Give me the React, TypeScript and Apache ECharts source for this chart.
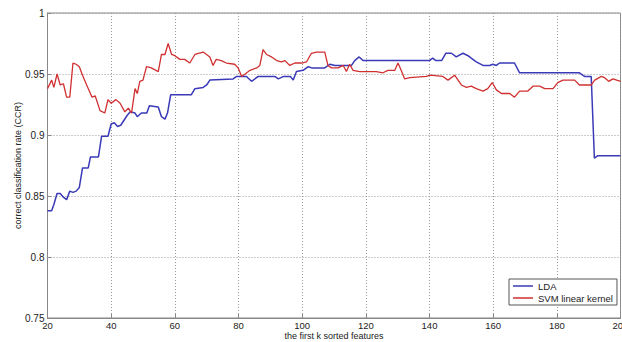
import React, { useEffect, useRef } from "react";
import * as echarts from "echarts";

const xTicks = [20, 40, 60, 80, 100, 120, 140, 160, 180, 200];
const yTicks = [0.75, 0.8, 0.85, 0.9, 0.95, 1];

const ldaX = [20, 21.3, 22, 23, 24, 25, 26, 27, 28, 29, 30, 31, 32.8, 33.5, 36, 37, 39, 40, 41, 42, 43, 45, 46, 47.5, 48.2, 49.5, 51.2, 52, 54.8, 55.8, 56.9, 57.7, 58.7, 65.2, 66.3, 68.9, 70, 71, 78.3, 79.4, 82.5, 84.1, 86.2, 91.4, 92.5, 94.2, 96.3, 97.2, 98.2, 100.3, 101.9, 103, 107.1, 108.7, 110.3, 115.5, 116.5, 117.9, 119.1, 140, 141, 142, 143.8, 145.1, 146.9, 148.4, 150.5, 152.1, 153.1, 154.7, 156.8, 158.9, 159.9, 161, 162, 166.7, 168.3, 187.1, 188.7, 190.8, 191.8, 192.9, 200];
const ldaY = [0.838, 0.838, 0.843, 0.852, 0.852, 0.849, 0.847, 0.854, 0.853, 0.854, 0.857, 0.873, 0.873, 0.882, 0.882, 0.899, 0.899, 0.909, 0.910, 0.907, 0.908, 0.916, 0.919, 0.918, 0.915, 0.918, 0.918, 0.924, 0.923, 0.915, 0.913, 0.918, 0.933, 0.933, 0.938, 0.939, 0.941, 0.945, 0.946, 0.948, 0.948, 0.944, 0.948, 0.948, 0.946, 0.948, 0.948, 0.945, 0.952, 0.953, 0.956, 0.955, 0.955, 0.958, 0.957, 0.957, 0.961, 0.964, 0.961, 0.961, 0.963, 0.961, 0.961, 0.967, 0.967, 0.964, 0.967, 0.965, 0.963, 0.960, 0.957, 0.957, 0.958, 0.957, 0.959, 0.959, 0.951, 0.951, 0.948, 0.948, 0.881, 0.883, 0.883];

const svmX = [20, 21.3, 22, 23, 24, 25, 26, 27, 28, 29, 30, 31, 32.3, 34, 35, 36.5, 38, 39, 40, 41.5, 42.8, 44.3, 45.4, 46.4, 47.5, 48.2, 49, 50, 51.1, 52.6, 54.8, 55.8, 56.9, 57.9, 59, 60, 61.6, 63.1, 64.7, 66.3, 68.9, 71, 72, 73, 74.6, 76.2, 78.8, 79.9, 81, 82.1, 83.6, 85.7, 86.7, 87.7, 88.8, 90.4, 92, 93.5, 94.6, 96.1, 97.7, 99.8, 101.4, 102.9, 104.5, 107.1, 108.1, 109.2, 111.3, 112.9, 113.9, 114.9, 116, 118.1, 123.3, 125.4, 126.9, 129.1, 130.1, 131.1, 132.2, 133.8, 139, 140.3, 144.2, 145.8, 147.9, 150, 151.6, 153.1, 154.7, 156.8, 158.3, 159.7, 161, 162.6, 165.2, 166.7, 168.3, 170.9, 172.5, 174.6, 176.2, 178.8, 180.3, 181.9, 185.6, 187.1, 190.8, 191.9, 194, 195, 196.3, 197.6, 200];
const svmY = [0.938, 0.945, 0.939, 0.950, 0.941, 0.942, 0.931, 0.931, 0.959, 0.958, 0.956, 0.949, 0.941, 0.931, 0.932, 0.920, 0.918, 0.929, 0.926, 0.929, 0.926, 0.919, 0.922, 0.918, 0.938, 0.934, 0.944, 0.945, 0.956, 0.955, 0.952, 0.966, 0.966, 0.975, 0.966, 0.965, 0.962, 0.962, 0.959, 0.966, 0.968, 0.964, 0.957, 0.962, 0.961, 0.959, 0.958, 0.955, 0.948, 0.950, 0.953, 0.955, 0.957, 0.970, 0.966, 0.964, 0.961, 0.960, 0.961, 0.957, 0.959, 0.959, 0.960, 0.967, 0.968, 0.968, 0.957, 0.955, 0.955, 0.957, 0.952, 0.958, 0.953, 0.952, 0.952, 0.951, 0.953, 0.953, 0.959, 0.953, 0.946, 0.947, 0.948, 0.949, 0.948, 0.945, 0.949, 0.941, 0.939, 0.940, 0.938, 0.936, 0.938, 0.943, 0.937, 0.934, 0.934, 0.931, 0.936, 0.936, 0.940, 0.940, 0.938, 0.938, 0.943, 0.945, 0.945, 0.941, 0.941, 0.945, 0.948, 0.947, 0.944, 0.946, 0.944];

const seriesNames = ["LDA", "SVM linear kernel"];
const xTitle = "the first k sorted features";
const yTitle = "correct classification rate (CCR)";

export default function App() {
  const ref = useRef<HTMLDivElement>(null);
  useEffect(() => {
    if (!ref.current) return;
    const chart = echarts.init(ref.current, undefined, { renderer: "svg" });
    const font = "Arial, 'Liberation Sans', sans-serif";
    const pair = (xs: number[], ys: number[]) => xs.map((x, i) => [x, ys[i]]);
    chart.setOption({
      animation: false,
      backgroundColor: "#ffffff",
      textStyle: { fontFamily: font },
      grid: {
        left: 47.5,
        right: 1.5,
        top: 13,
        bottom: 24,
        outerBoundsMode: "none",
        containLabel: false,
        show: true,
        borderColor: "#888",
        borderWidth: 1,
      },
      legend: {
        left: 509,
        top: 279,
        orient: "vertical",
        icon: "rect",
        itemWidth: 20,
        itemHeight: 1.5,
        itemGap: 2,
        padding: [2, 4, 2, 4],
        borderColor: "#555",
        borderWidth: 1,
        backgroundColor: "#fff",
        textStyle: { fontSize: 9.5, color: "#222", fontFamily: font },
        data: seriesNames,
      },
      xAxis: {
        type: "value",
        min: xTicks[0],
        max: xTicks[xTicks.length - 1],
        interval: 20,
        name: xTitle,
        nameLocation: "middle",
        nameGap: 13.5,
        nameMoveOverlap: false,
        nameTextStyle: { fontSize: 9, color: "#222" },
        axisLine: { lineStyle: { color: "#888" } },
        axisTick: { inside: true, length: 4, lineStyle: { color: "#888" } },
        axisLabel: { fontSize: 9.5, color: "#222", margin: 2 },
        splitLine: { show: true, lineStyle: { type: [1, 2], color: "#999" } },
      },
      yAxis: {
        type: "value",
        min: yTicks[0],
        max: yTicks[yTicks.length - 1],
        interval: 0.05,
        name: yTitle,
        nameLocation: "middle",
        nameGap: 25,
        nameMoveOverlap: false,
        nameTextStyle: { fontSize: 9, color: "#222" },
        axisLine: { show: true, lineStyle: { color: "#888" } },
        axisTick: { show: true, inside: true, length: 4, lineStyle: { color: "#888" } },
        axisLabel: {
          fontSize: 10,
          color: "#222",
          margin: 3,
          formatter: (v: number) => String(+v.toFixed(2)),
        },
        splitLine: { show: true, lineStyle: { type: [1, 2], color: "#999" } },
      },
      series: [
        {
          name: seriesNames[0],
          type: "line",
          data: pair(ldaX, ldaY),
          symbol: "none",
          lineStyle: { color: "#3a3ab8", width: 1.5 },
          itemStyle: { color: "#3a3ab8" },
        },
        {
          name: seriesNames[1],
          type: "line",
          data: pair(svmX, svmY),
          symbol: "none",
          lineStyle: { color: "#d03030", width: 1.3 },
          itemStyle: { color: "#d03030" },
        },
      ],
    });
    return () => chart.dispose();
  }, []);
  return (
    <div
      ref={ref}
      style={{ position: "fixed", left: 0, top: 0, width: 622, height: 342, background: "#fff" }}
    />
  );
}
